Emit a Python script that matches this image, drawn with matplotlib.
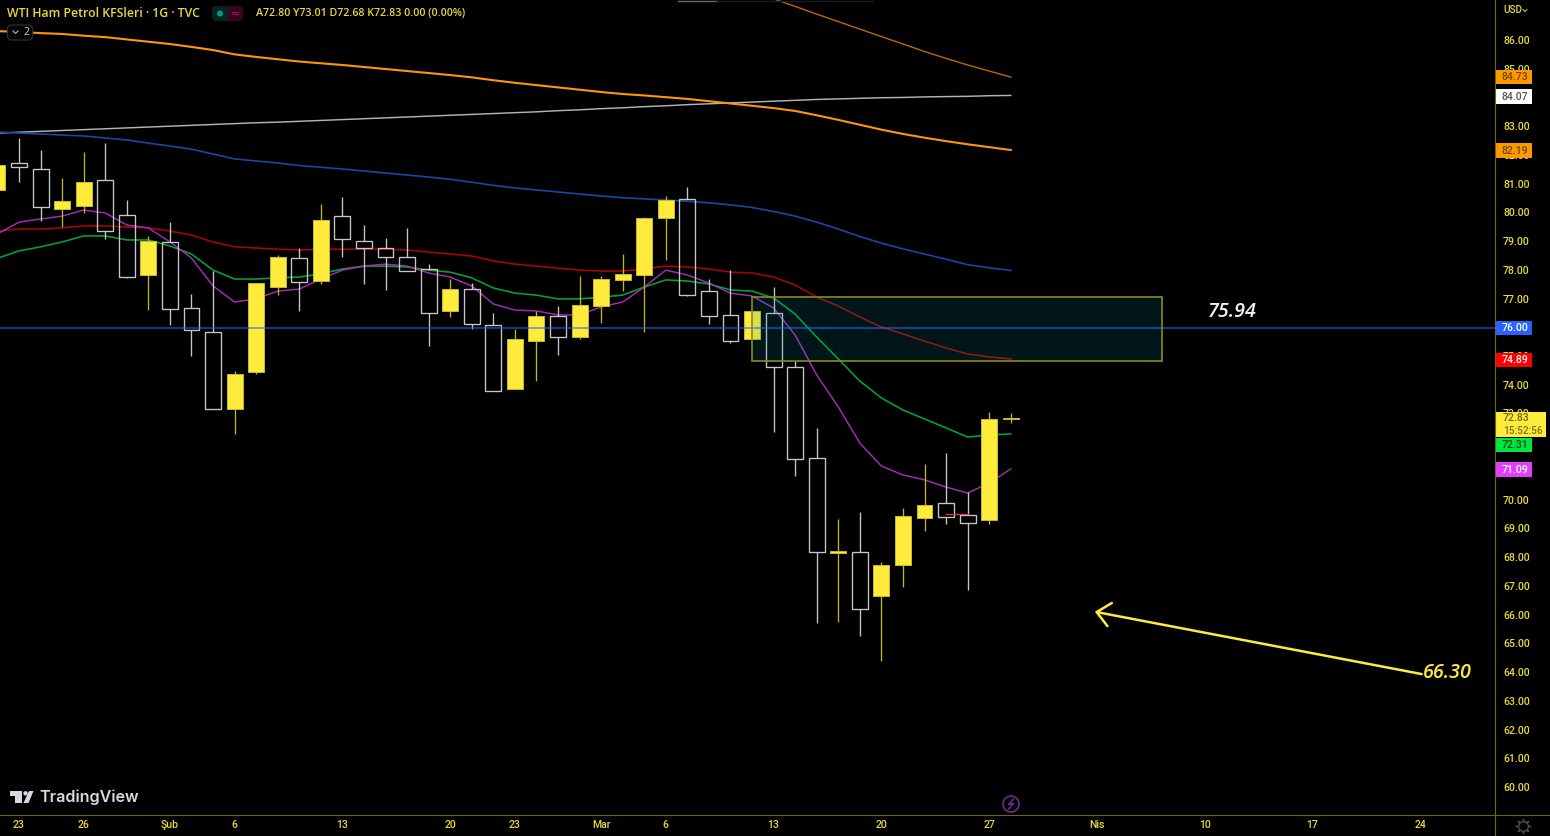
"""WTI daily candles with moving averages, redrawn in a TradingView dark layout."""
from __future__ import annotations

import matplotlib

matplotlib.use("Agg")
import matplotlib.pyplot as plt
import numpy as np
from matplotlib.patches import Circle, FancyBboxPatch, Polygon, Rectangle


FIGURE_PATH = "out.png"

BARS = list(range(-1, 47))
OPENS = [80.78, 81.72, 81.51, 80.12, 80.22, 81.13, 79.91, 77.82, 78.97, 76.67, 75.84, 73.16,
         74.44, 77.40, 78.41, 77.61, 79.87, 79.00, 78.76, 78.45, 78.03, 76.57, 77.33, 76.08,
         73.85, 75.52, 76.39, 75.66, 76.74, 77.65, 77.82, 79.80, 80.47, 77.26, 76.43, 75.59,
         76.50, 74.62, 71.45, 68.15, 68.18, 66.65, 67.73, 69.36, 69.89, 69.47, 69.29, 72.80]
HIGHS = [81.65, 82.59, 82.17, 81.20, 82.10, 82.41, 80.43, 79.18, 79.66, 77.16, 77.96, 74.48,
         77.54, 78.52, 78.76, 80.29, 80.53, 79.56, 79.11, 79.46, 78.20, 77.68, 77.54, 76.50,
         75.94, 76.57, 76.74, 77.79, 77.79, 78.55, 79.84, 80.57, 80.88, 77.68, 77.99, 76.57,
         77.40, 74.83, 72.50, 69.33, 69.57, 67.83, 69.71, 71.24, 71.63, 70.27, 73.05, 73.01]
LOWS = [80.78, 81.06, 79.70, 79.49, 79.98, 79.07, 77.72, 76.60, 76.08, 75.00, 73.16, 72.29,
        74.37, 77.12, 76.57, 77.51, 78.45, 77.51, 77.30, 77.96, 75.35, 76.36, 75.94, 73.78,
        73.85, 74.13, 75.04, 75.59, 76.15, 77.26, 75.84, 78.34, 77.09, 76.12, 75.45, 75.59,
        72.36, 70.83, 65.71, 65.74, 65.26, 64.39, 66.96, 68.91, 69.16, 66.86, 69.16, 72.68]
CLOSES = [81.65, 81.58, 80.19, 80.40, 81.06, 79.35, 77.75, 79.00, 76.64, 75.91, 73.16, 74.37,
          77.54, 78.45, 77.58, 79.73, 79.07, 78.76, 78.45, 77.96, 76.50, 77.33, 76.12, 73.78,
          75.59, 76.39, 75.66, 76.78, 77.68, 77.86, 79.80, 80.43, 77.12, 76.39, 75.52, 76.57,
          74.62, 71.42, 68.18, 68.22, 66.20, 67.73, 69.43, 69.82, 69.40, 69.19, 72.81, 72.83]

MA_PURPLE = [79.25, 79.66, 79.77, 79.87, 80.08, 79.98, 79.56, 79.46, 78.97, 78.41, 77.44, 76.88,
             76.99, 77.26, 77.33, 77.68, 77.99, 78.13, 78.20, 78.13, 77.89, 77.75, 77.44, 76.81,
             76.60, 76.57, 76.43, 76.43, 76.71, 76.88, 77.40, 77.99, 77.82, 77.54, 77.19, 77.09,
             76.67, 75.73, 74.34, 73.23, 71.97, 71.17, 70.86, 70.69, 70.44, 70.23, 70.58, 71.07]
MA_GREEN = [78.40, 78.66, 78.80, 78.97, 79.18, 79.18, 79.04, 79.04, 78.83, 78.55, 77.99, 77.68,
            77.68, 77.72, 77.75, 77.86, 78.03, 78.13, 78.13, 78.10, 77.99, 77.92, 77.72, 77.37,
            77.19, 77.12, 76.99, 76.99, 77.05, 77.12, 77.40, 77.65, 77.61, 77.51, 77.30, 77.26,
            77.02, 76.46, 75.66, 74.90, 74.13, 73.54, 73.12, 72.81, 72.50, 72.18, 72.25, 72.29]
MA_RED = [79.35, 79.42, 79.42, 79.46, 79.53, 79.53, 79.49, 79.46, 79.35, 79.21, 78.97, 78.80,
          78.76, 78.72, 78.69, 78.72, 78.72, 78.72, 78.72, 78.69, 78.62, 78.55, 78.48, 78.31,
          78.20, 78.13, 78.06, 77.99, 77.96, 77.96, 78.03, 78.13, 78.10, 78.03, 77.92, 77.89,
          77.75, 77.47, 77.05, 76.74, 76.36, 76.01, 75.77, 75.52, 75.28, 75.07, 74.97, 74.90]
MA_BLUE = [82.80, 82.76, 82.73, 82.69, 82.66, 82.59, 82.52, 82.41, 82.31, 82.20, 82.03, 81.86,
           81.79, 81.72, 81.63, 81.57, 81.51, 81.44, 81.37, 81.30, 81.23, 81.15, 81.05, 80.94,
           80.85, 80.78, 80.71, 80.64, 80.57, 80.51, 80.47, 80.43, 80.39, 80.33, 80.26, 80.17,
           80.03, 79.87, 79.66, 79.42, 79.16, 78.93, 78.73, 78.55, 78.37, 78.18, 78.07, 77.98]
MA_ORANGE = [86.31, 86.28, 86.24, 86.21, 86.15, 86.10, 86.02, 85.94, 85.86, 85.76, 85.65, 85.50,
             85.41, 85.33, 85.25, 85.19, 85.13, 85.06, 84.99, 84.92, 84.85, 84.78, 84.70, 84.60,
             84.51, 84.43, 84.35, 84.27, 84.19, 84.12, 84.07, 84.01, 83.95, 83.87, 83.79, 83.71,
             83.63, 83.53, 83.38, 83.22, 83.05, 82.88, 82.73, 82.60, 82.48, 82.37, 82.27, 82.17]
MA_WHITE = [82.76, 82.79, 82.82, 82.85, 82.88, 82.91, 82.94, 82.97, 83.00, 83.03, 83.06, 83.09,
            83.12, 83.14, 83.17, 83.20, 83.23, 83.26, 83.29, 83.32, 83.35, 83.38, 83.41, 83.44,
            83.47, 83.50, 83.54, 83.57, 83.61, 83.64, 83.68, 83.71, 83.75, 83.78, 83.81, 83.84,
            83.87, 83.90, 83.93, 83.95, 83.97, 83.99, 84.00, 84.02, 84.03, 84.04, 84.06, 84.07]
THIN_ORANGE_BARS = list(range(35, 47))
THIN_ORANGE = [87.43, 87.17, 86.90, 86.64, 86.38, 86.12, 85.86, 85.60, 85.36, 85.13, 84.92, 84.71]

X_TICKS = [0, 3, 7, 10, 15, 20, 23, 27, 30, 35, 40, 45, 50, 55, 60, 65]
X_LABELS = ["23", "26", "Şub", "6", "13", "20", "23", "Mar", "6", "13", "20", "27", "Nis", "10", "17", "24"]
Y_TICKS = list(range(60, 87))

LEVEL = 75.98
ZONE_BARS = (34.0, 53.0)
ZONE_PRICES = (74.83, 77.05)
ARROW_TAIL = (65.06, 63.93)
ARROW_TIP = (49.9, 66.10)
LABEL_UPPER = (56.26, 76.53, "75.94")
LABEL_LOWER = (66.24, 63.97, "66.30")
RED_TICK_BARS = (43.0, 44.0)
RED_TICK_PRICE = 69.50
TIMER = "15:52:56"

# badge centre on the price scale, then its text: TradingView pushes 72.31 down below the last-price tag
BADGE_CENTRES = [84.71, 84.03, 82.15, 75.97, 74.86, 71.91, 71.05]
BADGE_LABELS = ["84.73", "84.07", "82.19", "76.00", "74.89", "72.31", "71.09"]
BADGE_FILLS = ["#ff9800", "#ffffff", "#ff9800", "#2962ff", "#ff0000", "#00e640", "#e040fb"]
BADGE_TEXTS = ["#6b4a00", "#555555", "#6b4a00", "#ffffff", "#ffffff", "#0b4a1b", "#ffffff"]

YELLOW = "#ffeb3b"
TEXT_YELLOW = "#e6da3e"
AXIS_OLIVE = "#6f6512"
WIDTH, HEIGHT = 1550, 836
AXIS_RIGHT, AXIS_BOTTOM = 1495, 815
BAR_PX, BAR0_PX = 21.56, 19.0
PRICE_PX = 28.73


def _candles(ax) -> None:
    x = np.array(BARS, dtype=float)
    opens, closes = np.array(OPENS), np.array(CLOSES)
    highs, lows = np.array(HIGHS), np.array(LOWS)
    top, bottom = np.maximum(opens, closes), np.minimum(opens, closes)
    up = closes >= opens
    for mask, wick in ((up, "#c2b41a"), (~up, "#c8c8c8")):
        ax.vlines(x[mask], top[mask], highs[mask], color=wick, linewidth=0.95, zorder=3)
        ax.vlines(x[mask], lows[mask], bottom[mask], color=wick, linewidth=0.95, zorder=3)
    ax.bar(x[up], (top - bottom)[up], bottom=bottom[up], width=0.74, color=YELLOW,
           edgecolor="#c9bb2c", linewidth=0.7, zorder=3)
    ax.bar(x[~up], (top - bottom)[~up], bottom=bottom[~up], width=0.74, facecolor="none",
           edgecolor="#c8c8c8", linewidth=0.95, zorder=3)


def _lines(ax) -> None:
    for values, color, width in (
        (MA_WHITE, "#b4b4b4", 1.05),
        (MA_ORANGE, "#ff9800", 1.5),
        (MA_BLUE, "#1c44a8", 1.2),
        (MA_RED, "#a00606", 1.2),
        (MA_GREEN, "#00a437", 1.15),
        (MA_PURPLE, "#a12fb5", 1.05),
    ):
        ax.plot(BARS, values, color=color, linewidth=width, zorder=2, solid_joinstyle="round")
    ax.plot(THIN_ORANGE_BARS, THIN_ORANGE, color="#b96a05", linewidth=1.0, zorder=2)
    ax.plot(RED_TICK_BARS, [RED_TICK_PRICE] * 2, color="#e53950", linewidth=0.9, zorder=4)


def _drawings(ax) -> None:
    ax.axhline(LEVEL, color="#2962ff", alpha=0.6, linewidth=1.3, zorder=5)
    left, right = ZONE_BARS
    low, high = ZONE_PRICES
    ax.add_patch(Rectangle((left, low), right - left, high - low, facecolor="#0097a7", alpha=0.15,
                           edgecolor="none", zorder=6))
    ax.add_patch(Rectangle((left, low), right - left, high - low, facecolor="none",
                           edgecolor="#8f8722", linewidth=1.2, zorder=6))
    ax.annotate("", xy=ARROW_TIP, xytext=ARROW_TAIL, zorder=7, arrowprops=dict(
        arrowstyle="->,head_length=0.95,head_width=0.85", color=YELLOW, linewidth=1.8,
        mutation_scale=10, shrinkA=0, shrinkB=0))
    for (x, y, label), color in ((LABEL_UPPER, "#f0f0f0"), (LABEL_LOWER, YELLOW)):
        ax.text(x, y, label, color=color, style="italic", weight="semibold", fontsize=14.2,
                family="Open Sans", ha="center", va="center", zorder=7)


def _price_badges(ax) -> None:
    transform = ax.get_yaxis_transform()
    left = 1.0 + 1.0 / AXIS_RIGHT
    badge_width = 36.0 / AXIS_RIGHT
    text_x = 1.0 + 19.5 / AXIS_RIGHT
    half = 7.2 / PRICE_PX
    for price, label, background, foreground in zip(BADGE_CENTRES, BADGE_LABELS, BADGE_FILLS, BADGE_TEXTS):
        ax.add_patch(Rectangle((left, price - half), badge_width, 2 * half, facecolor=background,
                               edgecolor="none", transform=transform, clip_on=False, zorder=10))
        ax.text(text_x, price, label, color=foreground, fontsize=7.6, weight="medium", ha="center",
                va="center", transform=transform, zorder=11)
    ax.add_patch(Rectangle((left, 72.18), 50.0 / AXIS_RIGHT, 0.87, facecolor=YELLOW, edgecolor="none",
                           transform=transform, clip_on=False, zorder=10))
    ax.text(1.0 + 8.0 / AXIS_RIGHT, CLOSES[-1], f"{CLOSES[-1]:.2f}", color="#6e6418", fontsize=7.6,
            weight="medium", ha="left", va="center", transform=transform, zorder=11)
    ax.text(1.0 + 8.0 / AXIS_RIGHT, 72.39, TIMER, color="#7d7220", fontsize=7.2,
            weight="medium", ha="left", va="center", transform=transform, zorder=11)


def _rounded(chrome, x, y, width, height, face, edge="none", linewidth=0.0) -> None:
    chrome.add_patch(FancyBboxPatch((x, y), width, height, boxstyle="round,pad=0,rounding_size=4",
                                    facecolor=face, edgecolor=edge, linewidth=linewidth))


def _chrome(fig) -> None:
    chrome = fig.add_axes([0, 0, 1, 1], zorder=20)
    chrome.set_xlim(0, WIDTH)
    chrome.set_ylim(HEIGHT, 0)
    chrome.axis("off")
    chrome.patch.set_alpha(0)

    chrome.text(7, 13.5, "WTI Ham Petrol KFSleri · 1G · TVC", color=TEXT_YELLOW, fontsize=8.8,
                family="Open Sans", weight="semibold", va="center")
    _rounded(chrome, 212, 6, 20, 15, "#06251f")
    _rounded(chrome, 224, 6, 19, 15, "#33081e")
    chrome.add_patch(Rectangle((224, 6), 4, 15, facecolor="#06251f", edgecolor="none"))
    chrome.add_patch(Circle((220, 13.5), 3, facecolor="#089981", edgecolor="none"))
    chrome.text(235, 13.5, "≈", color="#c2185b", fontsize=8, ha="center", va="center", family="DejaVu Sans")
    chrome.text(256, 14, "A72.80 Y73.01 D72.68 K72.83 0.00 (0.00%)", color=TEXT_YELLOW, fontsize=7.65,
                family="Open Sans", weight="semibold", va="center")

    _rounded(chrome, 7.5, 25, 25, 15, "#050505", "#2a2e39", 0.9)
    chrome.plot([13, 15.5, 18], [31, 33.5, 31], color="#b8b8b8", linewidth=0.8)
    chrome.text(26, 32.5, "2", color="#d0d0d0", fontsize=7.5, ha="center", va="center", family="Open Sans")

    chrome.plot([678, 717], [0.5, 0.5], color="#6a6a6a", linewidth=1.0)
    chrome.plot([717, 873], [0.5, 0.5], color="#1c1c1c", linewidth=1.0)

    chrome.plot([AXIS_RIGHT, AXIS_RIGHT], [0, HEIGHT], color=AXIS_OLIVE, linewidth=0.8)
    chrome.plot([0, WIDTH], [AXIS_BOTTOM, AXIS_BOTTOM], color=AXIS_OLIVE, linewidth=0.8)

    chrome.text(1503, 10, "USD", color=TEXT_YELLOW, fontsize=7.2, family="Roboto", weight="medium", va="center")
    chrome.plot([1523, 1525, 1527], [9.5, 11.5, 9.5], color=TEXT_YELLOW, linewidth=0.7)

    for points in (
        [(9.5, 791), (22, 791), (22, 803), (15, 803), (15, 795.5), (9.5, 795.5)],
        [(29, 791), (33.5, 791), (28.5, 803), (23.5, 803)],
    ):
        chrome.add_patch(Polygon(points, closed=True, facecolor="#d8d8de", edgecolor="none"))
    chrome.add_patch(Circle((25.5, 793.3), 2.2, facecolor="#d8d8de", edgecolor="none"))
    chrome.text(39.5, 797.5, "TradingView", color="#d8d8de", fontsize=11.6, family="Inter", weight="semibold",
                va="center")

    chrome.add_patch(Circle((1011, 804), 8, facecolor="none", edgecolor="#7b2b96", linewidth=1.1))
    chrome.plot([1013.5, 1008.5, 1013.5, 1008.5], [799, 804.5, 803.5, 809], color="#7b2b96", linewidth=1.0)

    chrome.plot([1523], [826], marker=(8, 2, 0), markersize=11, markeredgewidth=1.0, color="#4c4c4c")
    chrome.plot([1523], [826], marker="o", markersize=7, markerfacecolor="#000000",
                markeredgecolor="#4c4c4c", markeredgewidth=1.0)


def plot() -> None:
    plt.rcParams["font.family"] = ["Roboto", "DejaVu Sans"]
    fig = plt.figure(figsize=(WIDTH / 100, HEIGHT / 100), dpi=100, facecolor="#000000")
    ax = fig.add_axes([0, 1 - AXIS_BOTTOM / HEIGHT, AXIS_RIGHT / WIDTH, AXIS_BOTTOM / HEIGHT], facecolor="#000000")
    ax.set_xlim(-BAR0_PX / BAR_PX, (AXIS_RIGHT - BAR0_PX) / BAR_PX)
    ax.set_ylim(86 - (AXIS_BOTTOM - 40) / PRICE_PX, 86 + 40 / PRICE_PX)
    for spine in ax.spines.values():
        spine.set_visible(False)
    ax.yaxis.tick_right()
    ax.set_yticks(Y_TICKS, [f"{value:.2f}" for value in Y_TICKS])
    ax.set_xticks(X_TICKS, X_LABELS)
    ax.tick_params(axis="y", length=0, pad=5.8, labelsize=7.6, labelcolor=TEXT_YELLOW)
    ax.tick_params(axis="x", length=0, pad=3.6, labelsize=7.6, labelcolor=TEXT_YELLOW)
    for label in ax.get_xticklabels() + ax.get_yticklabels():
        label.set_fontweight("medium")

    _lines(ax)
    _candles(ax)
    _drawings(ax)
    _price_badges(ax)
    _chrome(fig)
    fig.savefig(FIGURE_PATH, dpi=100, facecolor=fig.get_facecolor())
    plt.close(fig)


def main() -> None:
    plot()


if __name__ == "__main__":
    main()
